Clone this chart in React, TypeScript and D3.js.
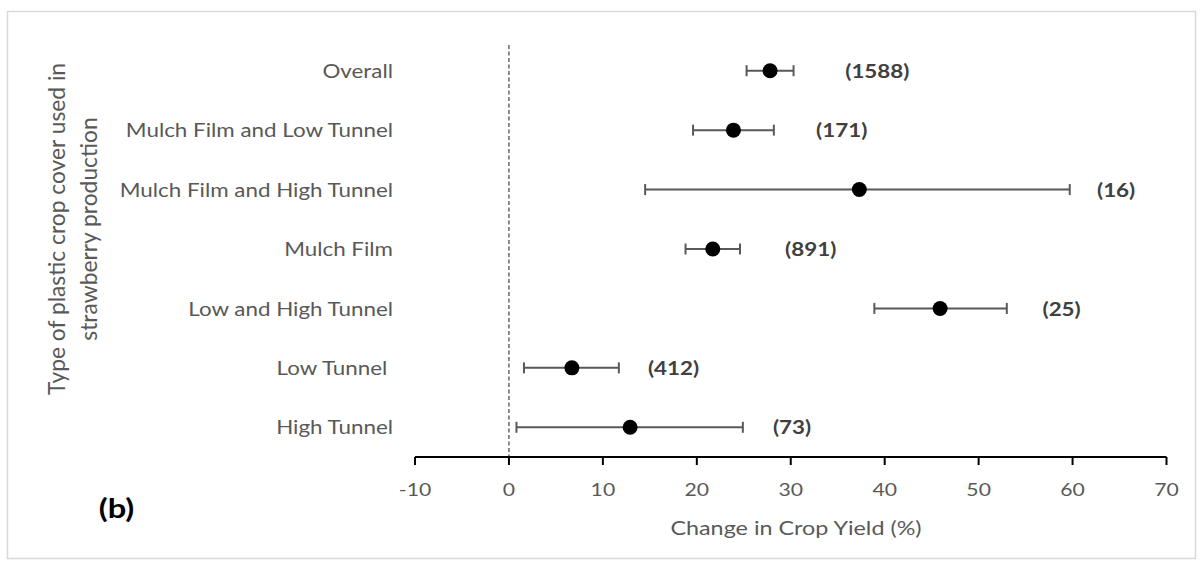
import React from "react";
import * as d3 from "d3";

// Plastic crop cover types, top to bottom
const categories = [
  "Overall",
  "Mulch Film and Low Tunnel",
  "Mulch Film and High Tunnel",
  "Mulch Film",
  "Low and High Tunnel",
  "Low Tunnel ",
  "High Tunnel",
];

// Mean change in crop yield (%) with confidence limits
const effect = [27.8, 23.9, 37.3, 21.7, 45.9, 6.7, 12.9];
const lower = [25.3, 19.6, 14.5, 18.8, 38.9, 1.6, 0.8];
const upper = [30.3, 28.2, 59.7, 24.6, 53.0, 11.7, 24.9];

// Number of observations per group
const counts = [1588, 171, 16, 891, 25, 412, 73];

// Where each count label starts, in axis units
const labelAt = [35.8, 32.7, 62.6, 29.4, 56.8, 14.8, 28.1];

const xTicks = [-10, 0, 10, 20, 30, 40, 50, 60, 70];

const W = 1203;
const H = 568;
const FONT = "Lato, 'Open Sans', sans-serif";
const GREY = "#595959";
// horizontal text widening used for all horizontal labels
const SX = 1.21;

function HText(props: {
  x: number;
  y: number;
  size: number;
  anchor?: "start" | "middle" | "end";
  bold?: boolean;
  fill?: string;
  children: React.ReactNode;
}) {
  return (
    <text
      transform={`translate(${props.x},${props.y}) scale(${SX},1)`}
      textAnchor={props.anchor ?? "start"}
      dominantBaseline="central"
      fontFamily={FONT}
      fontSize={props.size}
      fontWeight={props.bold ? "bold" : "normal"}
      fill={props.fill ?? GREY}
      style={{ whiteSpace: "pre" }}
    >
      {props.children}
    </text>
  );
}

export default function App() {
  const x = d3.scaleLinear().domain([-10, 70]).range([415, 1166.5]);
  const y = d3.scaleBand<string>().domain(categories).range([41, 457]);
  const axisY = 457;
  const cy = (c: string) => (y(c) as number) + y.bandwidth() / 2;

  return (
    <div style={{ position: "fixed", left: 0, top: 0 }}>
      <svg width={W} height={H} style={{ display: "block", background: "#fff" }}>
        <rect x={7.5} y={11.5} width={1188} height={547} fill="#fff" stroke="#d9d9d9" strokeWidth={1.5} />

        {/* zero reference line */}
        <line x1={x(0)} x2={x(0)} y1={45} y2={axisY} stroke="#404040" strokeWidth={1.2} strokeDasharray="4,2.5" />

        {/* x axis */}
        <line x1={x(-10)} x2={x(70)} y1={axisY} y2={axisY} stroke="#000" strokeWidth={2} />
        {xTicks.map((t) => (
          <g key={t}>
            <line x1={x(t)} x2={x(t)} y1={axisY} y2={axisY + 8} stroke="#000" strokeWidth={2} />
            <HText x={x(t)} y={489} size={17.5} anchor="middle">
              {t}
            </HText>
          </g>
        ))}
        <HText x={796} y={528} size={19.3} anchor="middle">
          Change in Crop Yield (%)
        </HText>

        {/* category labels */}
        {categories.map((c) => (
          <HText key={c} x={393} y={cy(c)} size={18.5} anchor="end">
            {c}
          </HText>
        ))}

        {/* y axis title */}
        <g transform="translate(0,229)">
          <text transform="translate(56,0) rotate(-90)" textAnchor="middle" dominantBaseline="central" fontFamily={FONT} fontSize={22.8} fill={GREY}>
            Type of plastic crop cover used in
          </text>
          <text transform="translate(88,0) rotate(-90)" textAnchor="middle" dominantBaseline="central" fontFamily={FONT} fontSize={22.8} fill={GREY}>
            strawberry production
          </text>
        </g>

        {/* error bars, points and counts */}
        {categories.map((c, i) => {
          const yy = cy(c);
          return (
            <g key={c}>
              <line x1={x(lower[i])} x2={x(upper[i])} y1={yy} y2={yy} stroke={GREY} strokeWidth={2} />
              <line x1={x(lower[i])} x2={x(lower[i])} y1={yy - 5.5} y2={yy + 5.5} stroke={GREY} strokeWidth={2} />
              <line x1={x(upper[i])} x2={x(upper[i])} y1={yy - 5.5} y2={yy + 5.5} stroke={GREY} strokeWidth={2} />
              <circle cx={x(effect[i])} cy={yy} r={7.5} fill="#000" />
              <HText x={x(labelAt[i])} y={yy} size={18.5} bold fill="#404040">
                ({counts[i]})
              </HText>
            </g>
          );
        })}

        <HText x={116.5} y={507} size={27} anchor="middle" bold fill="#000">
          (b)
        </HText>
      </svg>
    </div>
  );
}
